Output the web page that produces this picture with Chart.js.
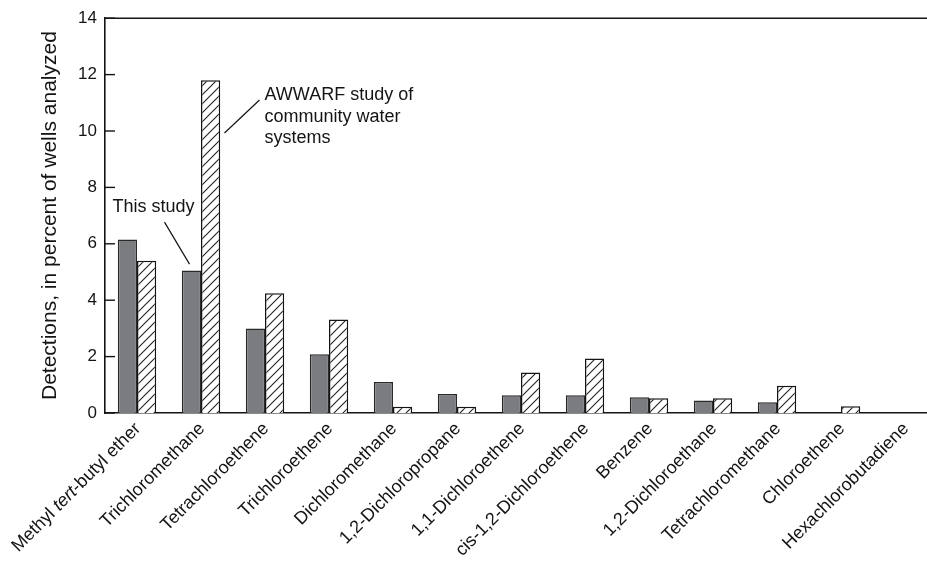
<!DOCTYPE html>
<html>
<head>
<meta charset="utf-8">
<script src="https://cdn.jsdelivr.net/npm/chart.js@4.4.0/dist/chart.umd.min.js"></script>
<style>
  html, body { margin: 0; padding: 0; background: #fff; overflow: hidden; }
  #wrap { width: 940px; height: 561px; position: relative; }
</style>
</head>
<body>
<div id="wrap"><canvas id="chart"></canvas></div>
<script>
// Compounds, in the order plotted
const compounds = [
  'Methyl tert-butyl ether',
  'Trichloromethane',
  'Tetrachloroethene',
  'Trichloroethene',
  'Dichloromethane',
  '1,2-Dichloropropane',
  '1,1-Dichloroethene',
  'cis-1,2-Dichloroethene',
  'Benzene',
  '1,2-Dichloroethane',
  'Tetrachloromethane',
  'Chloroethene',
  'Hexachlorobutadiene'
];

// Detections, in percent of wells analyzed
const thisStudy = [6.15, 5.05, 3.0, 2.08, 1.1, 0.67, 0.63, 0.63, 0.56, 0.44, 0.38, 0, 0];
const awwarf    = [5.4, 11.8, 4.25, 3.32, 0.22, 0.22, 1.44, 1.93, 0.52, 0.52, 0.97, 0.24, 0];

const yTicks = [0, 2, 4, 6, 8, 10, 12, 14];

const FONT = 'Arial, "Liberation Sans", Helvetica, sans-serif';
const INK = '#141414';

// diagonal hatch for the AWWARF bars
function hatchPattern() {
  const s = 9;
  const c = document.createElement('canvas');
  c.width = s; c.height = s;
  const g = c.getContext('2d');
  g.fillStyle = '#fff';
  g.fillRect(0, 0, s, s);
  g.strokeStyle = '#222';
  g.lineWidth = 1.1;
  g.beginPath();
  g.moveTo(-1, s + 1); g.lineTo(s + 1, -1);
  g.moveTo(-2, 2); g.lineTo(2, -2);
  g.moveTo(s - 2, s + 2); g.lineTo(s + 2, s - 2);
  g.stroke();
  return g.createPattern(c, 'repeat');
}

// top frame line, inward ticks, rotated category labels and callouts
const decor = {
  id: 'decor',
  afterDraw(chart) {
    const { ctx, chartArea: a, scales: { x, y } } = chart;
    ctx.save();
    ctx.strokeStyle = INK;
    ctx.lineWidth = 1.6;
    ctx.beginPath();
    ctx.moveTo(a.left, a.top);
    ctx.lineTo(a.right + 10, a.top);
    ctx.stroke();

    ctx.lineWidth = 1.4;
    yTicks.forEach(v => {
      const py = y.getPixelForValue(v);
      ctx.beginPath();
      ctx.moveTo(a.left, py);
      ctx.lineTo(a.left + 10, py);
      ctx.stroke();
    });

    // category labels at 45 degrees; "tert" set in italics
    ctx.fillStyle = INK;
    ctx.textBaseline = 'middle';
    ctx.textAlign = 'left';
    const size = 18;
    compounds.forEach((name, i) => {
      const parts = name.split(/(tert)/).filter(p => p.length);
      const fonts = parts.map(p => (p === 'tert' ? 'italic ' : '') + size + 'px ' + FONT);
      let total = 0;
      const widths = parts.map((p, k) => { ctx.font = fonts[k]; const w = ctx.measureText(p).width; total += w; return w; });
      ctx.save();
      ctx.translate(x.getPixelForValue(i) + 1, a.bottom + 13);
      ctx.rotate(-Math.PI / 4);
      let cx = -total;
      parts.forEach((p, k) => { ctx.font = fonts[k]; ctx.fillText(p, cx, 0); cx += widths[k]; });
      ctx.restore();
    });

    // callouts
    const x1 = x.getPixelForValue(1);
    ctx.font = '18px ' + FONT;
    ctx.textBaseline = 'alphabetic';
    ctx.fillText('This study', x.getPixelForValue(0) - 24.5, y.getPixelForValue(7.14));
    ['AWWARF study of', 'community water', 'systems'].forEach((t, k) => {
      ctx.fillText(t, x1 + 63.5, y.getPixelForValue(11.1) + k * 21.7);
    });
    ctx.lineWidth = 1.2;
    ctx.beginPath();
    ctx.moveTo(x1 - 36.5, y.getPixelForValue(6.77));
    ctx.lineTo(x1 - 11.5, y.getPixelForValue(5.28));
    ctx.moveTo(x1 + 58.5, y.getPixelForValue(11.1));
    ctx.lineTo(x1 + 23.5, y.getPixelForValue(9.93));
    ctx.stroke();
    ctx.restore();
  }
};

new Chart(document.getElementById('chart'), {
  type: 'bar',
  data: {
    labels: compounds,
    datasets: [
      {
        label: 'This study',
        data: thisStudy,
        backgroundColor: '#7b7c80',
        borderColor: '#2a2a2a',
        borderWidth: 1.5,
        barPercentage: 1,
        categoryPercentage: 0.6
      },
      {
        label: 'AWWARF study of community water systems',
        data: awwarf,
        backgroundColor: hatchPattern(),
        borderColor: INK,
        borderWidth: 1.5,
        barPercentage: 1,
        categoryPercentage: 0.6
      }
    ]
  },
  options: {
    responsive: true,
    maintainAspectRatio: false,
    animation: false,
    layout: { padding: { top: 18, right: 3, left: 0, bottom: 0 } },
    plugins: { legend: { display: false }, tooltip: { enabled: false } },
    scales: {
      x: {
        grid: { display: false, drawTicks: false },
        border: { display: true, color: INK, width: 1.6 },
        ticks: { display: false },
        afterFit: s => { s.height = 148; }
      },
      y: {
        min: 0,
        max: 14,
        grid: { display: false, drawTicks: false },
        border: { display: true, color: INK, width: 1.6 },
        ticks: { stepSize: 2, padding: 8, color: INK, font: { family: FONT, size: 17 } },
        title: {
          display: true,
          text: 'Detections, in percent of wells analyzed',
          color: INK,
          font: { family: FONT, size: 21 },
          padding: { top: 38, bottom: 0 }
        },
        afterFit: s => { s.width = 105; }
      }
    }
  },
  plugins: [decor]
});
</script>
</body>
</html>
